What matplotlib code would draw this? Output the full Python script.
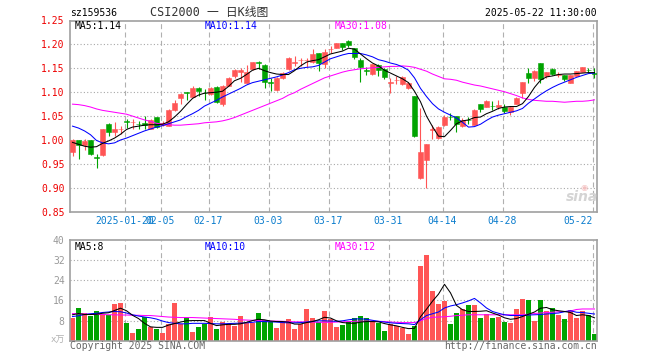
import matplotlib
matplotlib.use("Agg")
import matplotlib.pyplot as plt
import numpy as np
import pandas as pd

# ---------------- data ----------------
holidays = ['2025-01-28', '2025-01-29', '2025-01-30', '2025-01-31', '2025-02-03', '2025-02-04',
            '2025-04-04', '2025-05-01', '2025-05-02', '2025-05-05']
dates = pd.bdate_range('2025-01-07', '2025-05-22')
dates = dates[~dates.isin(pd.to_datetime(holidays))]

open_ = [0.974, 1.000, 0.989, 0.999, 0.965, 0.968, 1.034, 1.017, 1.023, 1.039,
         1.037, 1.034, 1.036, 1.023, 1.048, 1.031, 1.030, 1.063, 1.088, 1.100,
         1.090, 1.108, 1.099, 1.097, 1.110, 1.075, 1.113, 1.133, 1.142, 1.120,
         1.148, 1.163, 1.157, 1.121, 1.105, 1.129, 1.148, 1.162, 1.167, 1.167,
         1.164, 1.181, 1.160, 1.190, 1.193, 1.202, 1.207, 1.192, 1.167, 1.146,
         1.138, 1.157, 1.148, 1.120, 1.125, 1.117, 1.108, 1.092, 0.921, 0.958,
         1.021, 1.004, 1.032, 1.049, 1.051, 1.030, 1.042, 1.032, 1.076, 1.070,
         1.072, 1.069, 1.069, 1.058, 1.076, 1.098, 1.140, 1.129, 1.162, 1.133,
         1.148, 1.137, 1.136, 1.120, 1.134, 1.143, 1.147, 1.140]
high = [1.003, 1.001, 1.003, 1.000, 0.971, 1.024, 1.035, 1.038, 1.030, 1.043,
        1.043, 1.039, 1.050, 1.044, 1.049, 1.040, 1.064, 1.084, 1.098, 1.101,
        1.112, 1.111, 1.106, 1.110, 1.112, 1.115, 1.131, 1.149, 1.150, 1.156,
        1.164, 1.165, 1.158, 1.129, 1.131, 1.143, 1.173, 1.176, 1.171, 1.171,
        1.190, 1.183, 1.190, 1.197, 1.203, 1.203, 1.209, 1.192, 1.171, 1.152,
        1.160, 1.160, 1.150, 1.129, 1.133, 1.133, 1.122, 1.092, 1.067, 0.992,
        1.032, 1.029, 1.053, 1.056, 1.051, 1.046, 1.048, 1.065, 1.076, 1.084,
        1.082, 1.083, 1.076, 1.072, 1.089, 1.122, 1.150, 1.147, 1.162, 1.143,
        1.151, 1.142, 1.137, 1.136, 1.145, 1.153, 1.150, 1.150]
low = [0.966, 0.960, 0.980, 0.969, 0.941, 0.966, 1.009, 1.009, 1.013, 1.026,
       1.023, 1.022, 1.023, 1.022, 1.025, 1.029, 1.029, 1.060, 1.076, 1.084,
       1.089, 1.093, 1.084, 1.095, 1.078, 1.071, 1.112, 1.130, 1.121, 1.119,
       1.147, 1.148, 1.108, 1.103, 1.103, 1.128, 1.146, 1.155, 1.155, 1.153,
       1.162, 1.145, 1.150, 1.181, 1.192, 1.188, 1.195, 1.169, 1.122, 1.136,
       1.136, 1.133, 1.127, 1.098, 1.118, 1.115, 1.106, 1.006, 0.919, 0.899,
       1.002, 1.002, 1.030, 1.041, 1.016, 1.028, 1.034, 1.031, 1.058, 1.069,
       1.063, 1.065, 1.056, 1.053, 1.075, 1.088, 1.120, 1.124, 1.120, 1.129,
       1.136, 1.131, 1.124, 1.119, 1.133, 1.142, 1.140, 1.129]
close = [1.000, 0.990, 0.998, 0.971, 0.963, 1.023, 1.016, 1.023, 1.024, 1.038,
         1.038, 1.033, 1.031, 1.042, 1.027, 1.035, 1.063, 1.078, 1.097, 1.099,
         1.109, 1.102, 1.098, 1.108, 1.080, 1.113, 1.129, 1.147, 1.146, 1.143,
         1.163, 1.162, 1.121, 1.120, 1.129, 1.141, 1.172, 1.163, 1.168, 1.168,
         1.180, 1.162, 1.185, 1.191, 1.202, 1.194, 1.199, 1.174, 1.153, 1.145,
         1.159, 1.147, 1.131, 1.121, 1.126, 1.131, 1.120, 1.008, 0.975, 0.992,
         1.022, 1.027, 1.049, 1.048, 1.034, 1.041, 1.041, 1.063, 1.065, 1.081,
         1.071, 1.074, 1.061, 1.070, 1.088, 1.121, 1.129, 1.145, 1.127, 1.142,
         1.138, 1.138, 1.127, 1.135, 1.144, 1.152, 1.146, 1.139]
volume = [9.0, 13.0, 11.0, 9.8, 11.8, 10.8, 10.4, 14.5, 15.0, 7.0,
          3.0, 4.6, 9.4, 5.5, 4.6, 3.0, 6.5, 15.0, 6.7, 9.4,
          3.4, 5.4, 6.6, 9.4, 4.6, 7.3, 6.8, 6.0, 10.0, 7.2,
          6.9, 11.0, 8.4, 7.6, 5.0, 7.6, 8.6, 4.6, 6.7, 12.6,
          9.0, 7.5, 11.8, 8.5, 5.6, 6.3, 7.3, 9.2, 9.9, 9.2,
          8.0, 7.2, 3.9, 6.5, 5.9, 5.2, 2.7, 6.0, 29.5, 34.0,
          19.9, 14.7, 15.9, 6.7, 11.2, 12.7, 14.0, 14.3, 9.2, 10.5,
          9.2, 9.6, 7.6, 6.9, 12.7, 16.7, 16.3, 8.0, 16.3, 11.9,
          12.9, 10.3, 8.7, 12.3, 9.2, 11.6, 10.3, 2.7]

ma5 = [0.995, 0.991, 0.987, 0.985, 0.986, 0.993, 0.998, 1.004, 1.012, 1.022,
       1.027, 1.029, 1.031, 1.032, 1.032, 1.033, 1.038, 1.048, 1.060, 1.074,
       1.087, 1.094, 1.098, 1.099, 1.100, 1.102, 1.112, 1.124, 1.129, 1.137,
       1.146, 1.150, 1.145, 1.141, 1.138, 1.137, 1.137, 1.145, 1.155, 1.163,
       1.166, 1.168, 1.174, 1.180, 1.183, 1.186, 1.192, 1.190, 1.180, 1.170,
       1.161, 1.155, 1.146, 1.140, 1.134, 1.128, 1.120, 1.102, 1.080, 1.050,
       1.028, 1.008, 1.007, 1.020, 1.034, 1.040, 1.042, 1.047, 1.048, 1.055,
       1.060, 1.066, 1.069, 1.070, 1.070, 1.076, 1.091, 1.110, 1.125, 1.132,
       1.134, 1.137, 1.138, 1.138, 1.139, 1.140, 1.141, 1.141]
ma10 = [1.029, 1.025, 1.019, 1.011, 0.999, 0.994, 0.992, 0.994, 1.000, 1.004,
        1.009, 1.014, 1.019, 1.023, 1.027, 1.030, 1.034, 1.038, 1.042, 1.049,
        1.055, 1.062, 1.071, 1.077, 1.083, 1.090, 1.096, 1.102, 1.108, 1.115,
        1.120, 1.123, 1.126, 1.129, 1.132, 1.136, 1.141, 1.147, 1.150, 1.152,
        1.153, 1.156, 1.163, 1.170, 1.174, 1.178, 1.181, 1.181, 1.181, 1.178,
        1.174, 1.168, 1.165, 1.161, 1.158, 1.153, 1.146, 1.130, 1.108, 1.091,
        1.076, 1.065, 1.058, 1.052, 1.046, 1.037, 1.027, 1.028, 1.033, 1.041,
        1.048, 1.052, 1.055, 1.058, 1.061, 1.066, 1.077, 1.086, 1.095, 1.103,
        1.110, 1.116, 1.121, 1.126, 1.131, 1.135, 1.139, 1.140]
ma30 = [1.075, 1.074, 1.072, 1.069, 1.065, 1.062, 1.060, 1.058, 1.056, 1.054,
        1.050, 1.046, 1.042, 1.039, 1.035, 1.033, 1.032, 1.031, 1.031, 1.032,
        1.033, 1.034, 1.036, 1.037, 1.038, 1.040, 1.043, 1.047, 1.052, 1.057,
        1.062, 1.067, 1.072, 1.077, 1.082, 1.087, 1.094, 1.099, 1.106, 1.112,
        1.118, 1.124, 1.130, 1.134, 1.138, 1.142, 1.145, 1.147, 1.149, 1.150,
        1.151, 1.152, 1.153, 1.154, 1.154, 1.155, 1.154, 1.152, 1.148, 1.144,
        1.138, 1.133, 1.128, 1.127, 1.125, 1.121, 1.118, 1.115, 1.113, 1.110,
        1.107, 1.104, 1.101, 1.097, 1.093, 1.088, 1.085, 1.083, 1.082, 1.081,
        1.081, 1.080, 1.079, 1.080, 1.081, 1.081, 1.082, 1.084]

vma5 = [10.3, 10.8, 10.4, 10.4, 10.5, 10.9, 11.1, 12.0, 12.9, 11.9,
        10.1, 8.8, 6.9, 5.5, 5.3, 5.3, 6.2, 6.8, 7.4, 7.9,
        8.0, 8.0, 8.0, 6.9, 6.0, 6.3, 6.5, 6.5, 6.7, 7.3,
        8.0, 8.5, 8.3, 7.8, 7.6, 7.6, 7.4, 6.6, 6.6, 7.2,
        7.6, 8.3, 9.3, 9.0, 7.9, 7.2, 7.0, 6.9, 7.4, 7.6,
        7.6, 7.5, 6.8, 6.3, 5.9, 5.3, 4.8, 4.9, 9.5, 12.5,
        15.7, 18.5, 22.4, 19.0, 14.0, 12.3, 11.6, 11.6, 11.7, 11.9,
        11.0, 10.2, 9.1, 8.5, 8.8, 9.6, 10.5, 11.4, 12.9, 13.2,
        12.3, 11.9, 11.6, 11.2, 10.0, 10.3, 10.0, 9.1]
vma10 = [9.6, 9.9, 10.4, 10.7, 10.9, 11.2, 11.4, 11.6, 11.5, 11.0,
         10.3, 9.8, 9.4, 9.1, 8.6, 7.8, 7.2, 6.9, 6.7, 6.7,
         6.9, 6.9, 6.9, 6.8, 6.7, 6.7, 6.8, 6.9, 7.0, 7.1,
         7.3, 7.6, 7.6, 7.5, 7.4, 7.2, 7.1, 7.1, 7.2, 7.4,
         7.7, 7.9, 7.9, 7.8, 7.7, 7.9, 8.3, 8.6, 8.7, 8.5,
         8.1, 7.7, 7.4, 7.1, 6.9, 6.8, 6.7, 6.4, 8.3, 10.0,
         10.7, 11.4, 13.0, 13.8, 14.3, 15.0, 15.8, 16.8, 15.0, 13.0,
         11.6, 10.9, 10.3, 10.0, 10.0, 10.0, 10.2, 10.3, 10.4, 10.6,
         10.8, 11.0, 11.5, 11.9, 11.3, 11.2, 10.9, 10.6]
vma30 = [10.8, 10.7, 10.6, 10.5, 10.5, 10.4, 10.3, 10.3, 10.2, 10.2,
         10.1, 10.1, 10.0, 10.0, 9.8, 9.6, 9.4, 9.3, 9.2, 9.2,
         9.2, 9.1, 9.0, 8.9, 8.8, 8.7, 8.6, 8.5, 8.3, 8.2,
         8.1, 8.0, 7.9, 7.8, 7.8, 7.7, 7.6, 7.5, 7.5, 7.4,
         7.4, 7.3, 7.3, 7.3, 7.4, 7.5, 7.6, 7.7, 7.8, 7.8,
         7.8, 7.7, 7.6, 7.4, 7.3, 7.2, 7.2, 7.2, 7.9, 8.8,
         9.3, 9.4, 9.5, 9.7, 10.0, 10.1, 10.3, 10.3, 10.3, 10.3,
         10.3, 10.3, 10.3, 10.3, 10.3, 10.3, 10.5, 10.8, 11.0, 11.2,
         11.3, 11.5, 11.6, 11.8, 12.4, 12.6, 12.6, 12.6]

tick_days = ['2025-01-20', '2025-02-05', '2025-02-17', '2025-03-03', '2025-03-17',
             '2025-03-31', '2025-04-14', '2025-04-28', '2025-05-22']
price_ticks = [0.85, 0.90, 0.95, 1.00, 1.05, 1.10, 1.15, 1.20, 1.25]
vol_ticks = [8, 16, 24, 32, 40]

# ---------------- style ----------------
RED = '#ff5555'
GREEN = '#00a300'
MONO = 'DejaVu Sans Mono'
FS = 7
LW = 0.75

W, H = 660, 360
fig = plt.figure(figsize=(W / 100, H / 100), dpi=100)
L, R = 70.3, 597.3
ax = fig.add_axes([L / W, 1 - 211.7 / H, (R - L) / W, (211.7 - 20.5) / H])
axv = fig.add_axes([L / W, 1 - 340.7 / H, (R - L) / W, (340.7 - 240.0) / H])

x = np.arange(len(close))
o = np.array(open_); c = np.array(close); hi = np.array(high); lo = np.array(low)
v = np.array(volume)
up = c >= o
cols = np.where(up, RED, GREEN)

xmin, xmax = -0.37, 87.47
tick_pos = [dates.get_loc(pd.Timestamp(d)) - 0.33 for d in tick_days]

for a in (ax, axv):
    a.set_xlim(xmin, xmax)
    for s in a.spines.values():
        s.set_color('#a0a0a0')
        s.set_linewidth(1.2)
    a.tick_params(length=0)
    a.set_xticks([])
    for tp in tick_pos:
        a.axvline(tp, color='#b0b0b0', lw=0.8, ls=(0, (4.5, 3)), zorder=0)

# main panel
ax.set_ylim(0.85, 1.25)
for t in price_ticks[1:-1]:
    ax.axhline(t, color='#a8a8a8', lw=0.8, ls=(0, (1, 2)), zorder=0)
ax.set_yticks(price_ticks)
ax.set_yticklabels(['%.2f' % t for t in price_ticks], fontsize=FS, family=MONO, color='#ee0000')
ax.tick_params(axis='y', pad=4)

ax.vlines(x, lo, hi, colors=cols, lw=0.8, zorder=2)
body_h = np.maximum(np.abs(c - o), 0.0008)
ax.bar(x, body_h, bottom=np.minimum(o, c), width=0.8, color=cols, edgecolor=cols,
       linewidth=0.4, zorder=3)
ax.plot(x, ma30, color='#ff00ff', lw=LW, zorder=4)
ax.plot(x, ma10, color='#0000ff', lw=LW, zorder=4)
ax.plot(x, ma5, color='black', lw=LW, zorder=5)

# x labels (the first two overlap in the original chart as well)
for d, tp in zip(tick_days, tick_pos):
    lab = d if d == tick_days[0] else d[5:]
    ha = 'right' if d == tick_days[-1] else 'center'
    ax.text(tp, -0.048, lab, transform=ax.get_xaxis_transform(), ha=ha, va='center',
            fontsize=FS, family=MONO, color='#0a7ccd')

# volume panel
axv.set_ylim(0, 40)
for t in vol_ticks[:-1]:
    axv.axhline(t, color='#a8a8a8', lw=0.8, ls=(0, (1, 2)), zorder=0)
axv.set_yticks(vol_ticks)
axv.set_yticklabels([str(t) for t in vol_ticks], fontsize=FS, family=MONO, color='#999999')
axv.tick_params(axis='y', pad=4)
axv.bar(x, v, width=0.83, color=cols, linewidth=0, zorder=2)
axv.plot(x, vma30, color='#ff00ff', lw=LW, zorder=4)
axv.plot(x, vma10, color='#0000ff', lw=LW, zorder=4)
axv.plot(x, vma5, color='black', lw=LW, zorder=5)

# texts
def ftext(px, py, s, **kw):
    fig.text(px / W, 1 - py / H, s, **kw)

ftext(70, 13, 'sz159536', fontsize=FS, family=MONO, color='black', va='center')
ftext(209, 12.5, 'CSI2000 一 日K线图', fontsize=8.5, family=[MONO, 'Noto Sans CJK SC'],
      color='#333333', va='center', ha='center')
ftext(597, 13, '2025-05-22 11:30:00', fontsize=FS, family=MONO, color='black', va='center', ha='right')

ftext(75, 26, 'MA5:%.2f' % ma5[-1], fontsize=FS, family=MONO, color='black', va='center')
ftext(205, 26, 'MA10:%.2f' % ma10[-1], fontsize=FS, family=MONO, color='#0000ff', va='center')
ftext(335, 26, 'MA30:%.2f' % ma30[-1], fontsize=FS, family=MONO, color='#ff00ff', va='center')

ftext(75, 246.5, 'MA5:8', fontsize=FS, family=MONO, color='black', va='center')
ftext(205, 246.5, 'MA10:10', fontsize=FS, family=MONO, color='#0000ff', va='center')
ftext(335, 246.5, 'MA30:12', fontsize=FS, family=MONO, color='#ff00ff', va='center')

ftext(65, 340, 'x万', fontsize=6.5, family=[MONO, 'Noto Sans CJK SC'], color='#b0b0b0',
      va='center', ha='right')
ftext(70, 346, 'Copyright 2025 SINA.COM', fontsize=FS, family=MONO, color='#666666', va='center')
ftext(597, 346, 'http://finance.sina.com.cn', fontsize=FS, family=MONO, color='#666666',
      va='center', ha='right')
ftext(582, 197, 'sina', fontsize=10, family='DejaVu Sans', weight='bold', style='italic',
      color='#d4d4d4', va='center', ha='center')
ftext(584, 187, '◉', fontsize=6, family='DejaVu Sans', color='#f3c0c0', va='center', ha='center')

fig.savefig('out.png', dpi=100)
